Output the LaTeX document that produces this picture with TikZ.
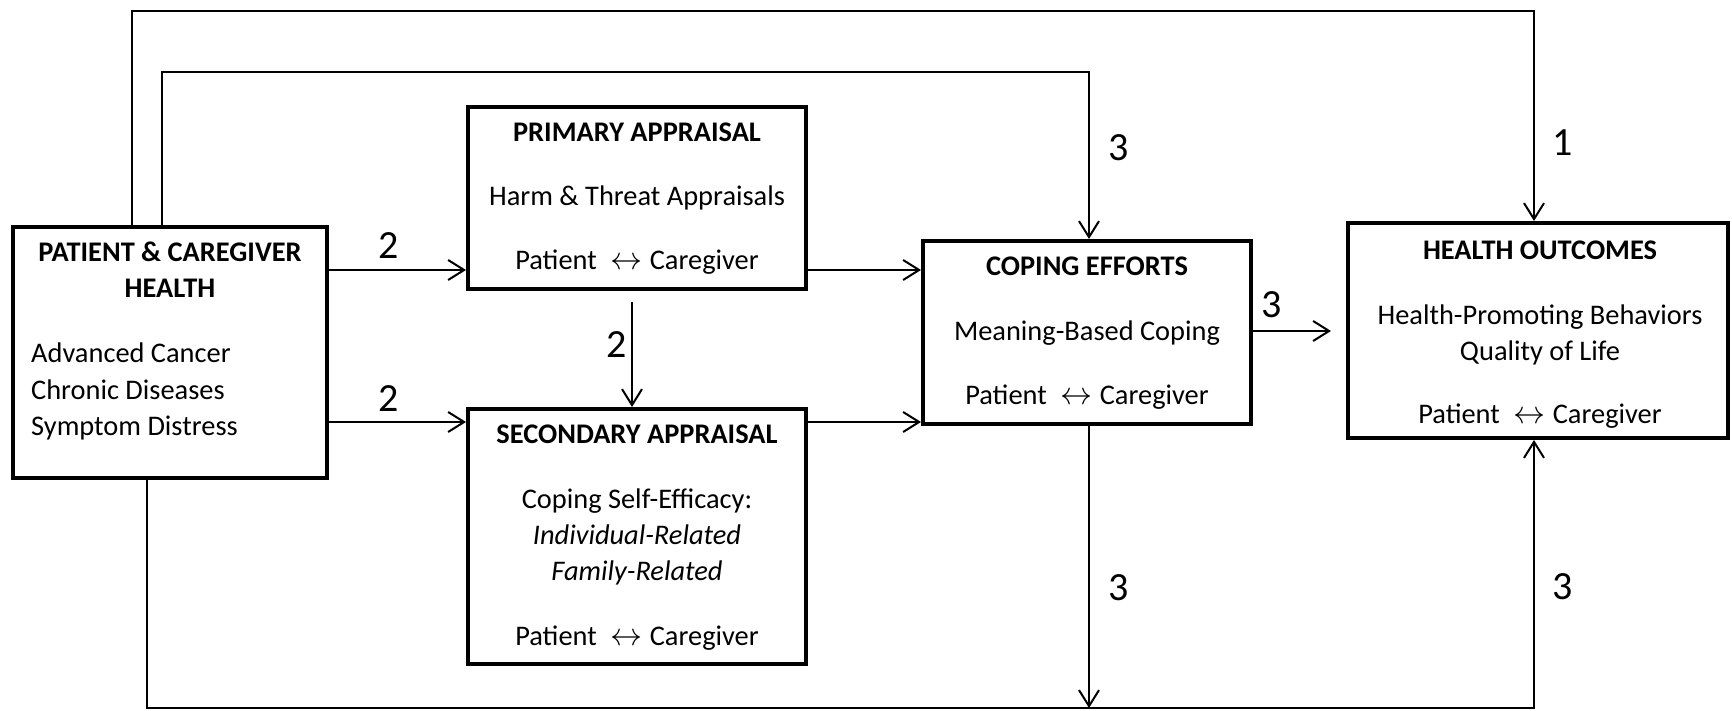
\documentclass[tikz,border=0pt]{standalone}
\usepackage{graphicx}
\usepackage{fontspec}
\setmainfont{Carlito}
\usetikzlibrary{arrows.meta}
\newcommand\boxfont{\fontsize{28.4}{36}\selectfont}
\newcommand\numfont{\fontsize{40}{48}\selectfont}
\newcommand\pc{Patient\hspace{14pt}\resizebox{32pt}{!}{$\leftrightarrow$}\hspace{7pt}Caregiver}
\begin{document}
\begin{tikzpicture}[x=1pt,y=-1pt,
  box/.style={draw=black, line width=4pt, inner sep=0pt},
  txt/.style={font=\boxfont, inner sep=0pt, anchor=base},
  head/.style={txt, font=\boxfont\bfseries},
  conn/.style={line width=2pt},
  arr/.style={conn, -{Straight Barb[length=16pt,width=20pt]}},
  num/.style={font=\numfont, inner sep=0pt}]
\useasboundingbox[fill=white] (0,0) rectangle (1732,711);

% boxes
\node[box, minimum width=314pt, minimum height=251pt] (pch) at (170,352.5) {};
\node[box, minimum width=338pt, minimum height=182pt] (pa)  at (637,198) {};
\node[box, minimum width=338pt, minimum height=255pt] (sa)  at (637,536.5) {};
\node[box, minimum width=328pt, minimum height=183pt] (ce)  at (1087,332.5) {};
\node[box, minimum width=380pt, minimum height=215pt] (ho)  at (1538,330.5) {};

% patient & caregiver health
\node[head] (pcht1) at (170,262) {PATIENT \& CAREGIVER};
\node[head] (pcht2) at (170,298) {HEALTH};
\node[txt, anchor=base west] (pchl1) at (31,362) {Advanced Cancer};
\node[txt, anchor=base west] (pchl2) at (31,399) {Chronic Diseases};
\node[txt, anchor=base west] (pchl3) at (31,435) {Symptom Distress};

% primary appraisal
\node[head] (pat) at (637,142) {PRIMARY APPRAISAL};
\node[txt]  (pa1) at (637,206) {Harm \& Threat Appraisals};
\node[txt]  (pa2) at (637,270) {\pc};

% secondary appraisal
\node[head] (sat) at (637,443) {SECONDARY APPRAISAL};
\node[txt]  (sa1) at (637,508) {Coping Self-Efficacy:};
\node[txt]  (sa2) at (637,544) {\itshape Individual-Related};
\node[txt]  (sa3) at (637,580) {\itshape Family-Related};
\node[txt]  (sa4) at (637,645) {\pc};

% coping efforts
\node[head] (cet) at (1087,276) {COPING EFFORTS};
\node[txt]  (ce1) at (1087,340) {Meaning-Based Coping};
\node[txt]  (ce2) at (1087,404) {\pc};

% health outcomes
\node[head] (hot) at (1540,260) {HEALTH OUTCOMES};
\node[txt]  (ho1) at (1540,324) {Health-Promoting Behaviors};
\node[txt]  (ho2) at (1540,360) {Quality of Life};
\node[txt]  (ho3) at (1540,423) {\pc};

% routing points
\coordinate (o1) at (132,11);  \coordinate (o2) at (1534,11);
\coordinate (i1) at (162,72);  \coordinate (i2) at (1089,72);
\coordinate (b0) at (147,708); \coordinate (b1) at (1089,708); \coordinate (b2) at (1534,708);
\coordinate (r1) at (0,270);   \coordinate (r2) at (0,422);   \coordinate (r3) at (0,331);
\coordinate (v1) at (632,0);

% connectors
\draw[arr] (pch.north -| o1) -- (o1) -- (o2) -- (ho.north -| o2);
\draw[arr] (pch.north -| i1) -- (i1) -- (i2) -- (ce.north -| i2);
\draw[arr] (pch.east |- r1) -- (pa.west |- r1);
\draw[arr] (pch.east |- r2) -- (sa.west |- r2);
\draw[arr, shorten <=11pt] (pa.south -| v1) -- (sa.north -| v1);
\draw[arr] (pa.east |- r1) -- (ce.west |- r1);
\draw[arr] (sa.east |- r2) -- (ce.west |- r2);
\draw[arr, shorten >=15pt] (ce.east |- r3) -- (ho.west |- r3);
\draw[arr] (ce.south -| b1) -- (b1);
\draw[arr] (pch.south -| b0) -- (b0) -- (b2) -- (ho.south -| b2);

% path labels
\node[num] (n1) at (1563,143) {1};
\node[num] (n2) at (389,246) {2};
\node[num] (n3) at (389,399) {2};
\node[num] (n4) at (617,345) {2};
\node[num] (n5) at (1119,148) {3};
\node[num] (n6) at (1272,305) {3};
\node[num] (n7) at (1119,588) {3};
\node[num] (n8) at (1563,587) {3};
\end{tikzpicture}
\end{document}
